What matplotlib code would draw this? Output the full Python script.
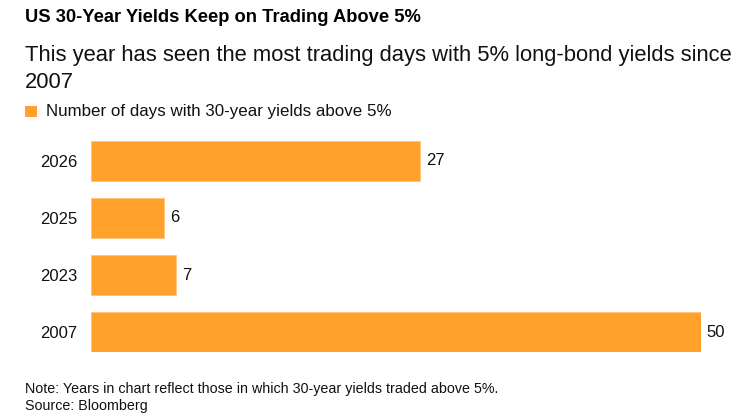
import matplotlib.pyplot as plt

plt.rcParams['font.family'] = ['Liberation Sans', 'DejaVu Sans']

years = ["2026", "2025", "2023", "2007"]
days = [27, 6, 7, 50]

title = "US 30-Year Yields Keep on Trading Above 5%"
subtitle_lines = ["This year has seen the most trading days with 5% long-bond yields since", "2007"]
legend_label = "Number of days with 30-year yields above 5%"
note_lines = ["Note: Years in chart reflect those in which 30-year yields traded above 5%.", "Source: Bloomberg"]

W, H = 749, 420
fig = plt.figure(figsize=(W / 100, H / 100), dpi=100)


def px(x, y):
    # reference pixel coords -> figure fraction
    return x / W, 1 - y / H


# axes placed in pixel terms of the reference
left, right, top, bottom = 91, 701, 141, 352
ax = fig.add_axes([left / W, 1 - bottom / H, (right - left) / W, (bottom - top) / H])

bar_color = "#FFA12B"
pos = list(range(len(years)))
ax.barh(pos, days, height=0.7, color=bar_color, edgecolor="#FFC47A", linewidth=0.6)
ax.set_ylim(len(years) - 0.65, -0.35)
ax.set_xlim(0, 50)

for p, v in zip(pos, days):
    ax.text(v + 0.45, p, str(v), va="center", ha="left", fontsize=12, color="#111111")

ax.set_yticks(pos)
ax.set_yticklabels(years, fontsize=12, color="#111111")
ax.tick_params(axis="y", length=0, pad=10)
ax.set_xticks([])
for s in ax.spines.values():
    s.set_visible(False)

fig.text(*px(25, 22), title, fontsize=13.2, fontweight="bold", va="baseline", ha="left", color="#000000")
fig.text(*px(25, 61), subtitle_lines[0], fontsize=15.8, va="baseline", ha="left", color="#111111")
fig.text(*px(25, 87.5), subtitle_lines[1], fontsize=15.8, va="baseline", ha="left", color="#111111")

# legend square + label
fig.patches.append(plt.Rectangle(px(25, 117), 11.5 / W, 11.5 / H, transform=fig.transFigure,
                                 facecolor=bar_color, edgecolor="none"))
fig.text(*px(46, 116), legend_label, fontsize=12.2, va="baseline", ha="left", color="#111111")

fig.text(*px(25, 393), note_lines[0], fontsize=10.3, va="baseline", ha="left", color="#111111")
fig.text(*px(25, 410), note_lines[1], fontsize=10.3, va="baseline", ha="left", color="#111111")

fig.savefig("out.png", dpi=100)
